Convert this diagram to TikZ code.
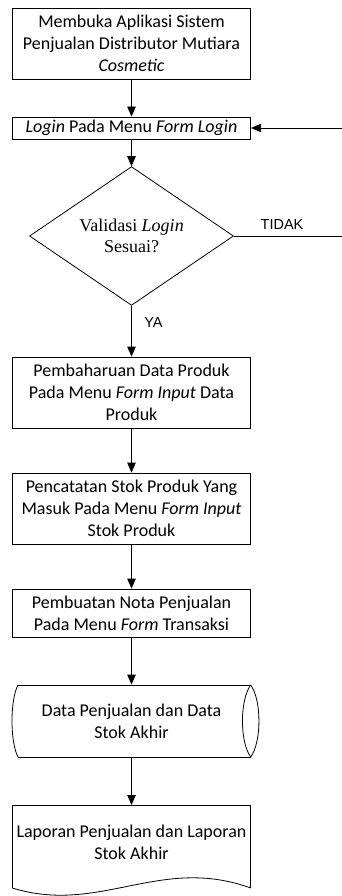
\documentclass[tikz,border=0pt]{standalone}
\usepackage{fontspec}
\setmainfont{Carlito}
\newfontfamily\timesfont{Liberation Serif}
\newfontfamily\arialfont{Liberation Sans}
\usetikzlibrary{shapes.geometric,arrows.meta}
\begin{document}
\begin{tikzpicture}[x=1pt,y=-1pt,
  line width=0.8pt,
  box/.style={draw, rectangle, minimum width=238.4pt, inner sep=0pt, align=center,
    font=\fontsize{18}{22}\selectfont},
  plain/.style={rectangle, minimum width=238.4pt, inner sep=0pt, align=center,
    font=\fontsize{18}{22}\selectfont},
  arr/.style={-{Triangle[length=10pt,width=8.5pt]}},
  lbl/.style={font=\arialfont\fontsize{14.5}{17}\selectfont, inner sep=0pt}]
\useasboundingbox (0,0) rectangle (342,896);

\node[box, minimum height=71pt] (b1) at (131.5,43.5)
  {Membuka Aplikasi Sistem\\Penjualan Distributor Mutiara\\\textit{Cosmetic}};
\node[box, minimum height=22pt] (b2) at (131.5,128)
  {\textit{Login} Pada Menu \textit{Form Login}};
\node[diamond, draw, minimum width=204pt, minimum height=126pt, inner sep=0pt,
  align=center, font=\timesfont\fontsize{18}{21.5}\selectfont] (d) at (131.5,236)
  {Validasi \textit{Login}\\Sesuai?};
\node[box, minimum height=71pt] (b3) at (131.5,392.5)
  {Pembaharuan Data Produk\\Pada Menu \textit{Form Input} Data\\Produk};
\node[box, minimum height=71pt] (b4) at (131.5,508.5)
  {Pencatatan Stok Produk Yang\\Masuk Pada Menu \textit{Form Input}\\Stok Produk};
\node[box, minimum height=48pt] (b5) at (131.5,613)
  {Pembuatan Nota Penjualan\\Pada Menu \textit{Form} Transaksi};
\node[plain, minimum height=72pt] (st) at (131.5,721)
  {Data Penjualan dan Data\\Stok Akhir};
\node[plain, minimum height=83pt, anchor=north] (doc) at (131.5,805) {};
\node[plain] (doctext) at (131.5,842) {Laporan Penjualan dan Laporan\\Stok Akhir};

% storage shape
\draw (18,685) -- (250.7,685);
\draw (18,757) -- (250.7,757);
\draw (18,685) .. controls (10,700) and (10,742) .. (18,757);
\draw (250.7,685) .. controls (239.7,700) and (239.7,742) .. (250.7,757);
\draw (250.7,685) .. controls (261.7,700) and (261.7,742) .. (250.7,757);

% document shape
\draw (12.3,888) -- (12.3,805) -- (250.7,805) -- (250.7,888);
\draw (12.3,888) .. controls (100,915) and (160,855) .. (250.7,888);

% connectors
\coordinate (inR) at (342,128);
\coordinate (outR) at (342,236);
\draw[arr] (b1) -- (b2);
\draw[arr] (b2) -- (d);
\draw[arr] (inR) -- (b2);
\draw (d.east) -- (outR);
\draw[arr] (d) -- (b3);
\draw[arr] (b3) -- (b4);
\draw[arr] (b4) -- (b5);
\draw[arr] (b5) -- (st);
\draw[arr] (st) -- (doc.north);

\node[lbl] (tidak) at (282,225) {TIDAK};
\node[lbl] (ya) at (153.5,323) {YA};
\end{tikzpicture}
\end{document}
